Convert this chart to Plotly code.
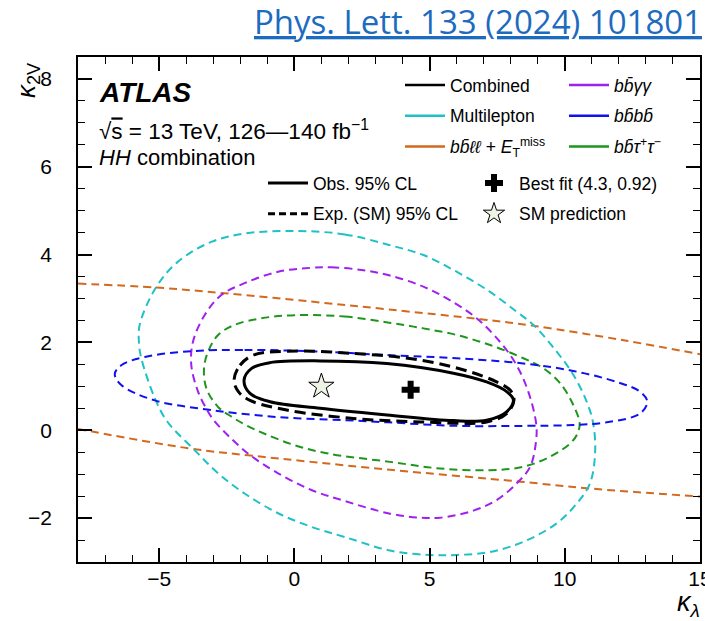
import plotly.graph_objects as go

# ---------------- data ----------------
# Multilepton 95% CL contour (cyan)
ml_x = [0.0, 1.86, 3.5, 4.77, 6.0, 7.24, 8.22, 8.84, 9.70, 10.32, 10.81, 11.05, 11.12, 10.93, 10.44,
        9.70, 8.47, 7.24, 6.0, 5.02, 3.54, 1.86, 0.63, -0.60, -1.84, -2.82, -3.69, -4.70,
        -5.16, -5.66, -5.74, -5.72, -5.10, -4.30, -3.07, -1.84, 0.0]
ml_y = [4.54, 4.46, 4.22, 3.99, 3.61, 3.15, 2.70, 2.40, 1.79, 1.26, 0.65, 0.16, -0.53, -1.21, -1.67,
        -2.12, -2.54, -2.77, -2.84, -2.84, -2.74, -2.43, -2.20, -1.89, -1.44, -0.98, -0.45, 0.20,
        0.73, 1.64, 1.95, 2.40, 3.27, 3.84, 4.29, 4.48, 4.54]

# bbyy 95% CL contour (purple)
yy_x = [0.63, 1.37, 2.48, 3.5, 4.77, 5.76, 6.74, 7.61, 8.22, 8.65, 8.94, 8.94, 8.72, 8.22, 7.48,
        6.62, 5.39, 4.65, 3.54, 1.86, 0.63, -0.60, -1.63, -2.40, -2.97, -3.19, -3.56, -3.81, -3.75,
        -3.32, -2.70, -1.84, -0.60, 0.63]
yy_y = [3.70, 3.71, 3.65, 3.53, 3.27, 2.96, 2.55, 2.01, 1.48, 0.88, 0.16, -0.23, -0.83, -1.21, -1.59,
        -1.83, -1.99, -1.99, -1.90, -1.61, -1.36, -0.98, -0.57, -0.15, 0.22, 0.42, 0.88, 1.48, 2.01,
        2.62, 3.08, 3.35, 3.61, 3.70]

# bbtautau 95% CL contour (green)
tt_x = [0.01, 1.86, 3.5, 4.77, 6.0, 7.24, 8.47, 9.21, 9.83, 10.32, 10.55, 10.45, 10.20, 9.46, 8.47,
        7.24, 5.39, 3.54, 1.25, 0.01, -1.10, -1.80, -2.30, -2.82, -3.25, -3.34, -3.19, -2.82, -2.21,
        -1.22, 0.01]
tt_y = [2.62, 2.59, 2.45, 2.32, 2.17, 1.94, 1.64, 1.41, 1.07, 0.57, 0.15, -0.10, -0.30, -0.60, -0.83,
        -0.91, -0.87, -0.72, -0.53, -0.34, -0.08, 0.12, 0.30, 0.53, 0.95, 1.41, 1.79, 2.17, 2.40,
        2.55, 2.62]

# bbbb 95% CL contour (blue)
b4_x = [-3.81, -1.84, 0.63, 3.5, 6.0, 8.47, 10.32, 11.92, 12.78, 13.05, 12.78, 11.55, 10.32, 8.47,
        6.0, 3.46, 1.86, -0.60, -3.07, -5.16, -6.40, -6.64, -6.40, -5.53, -3.81]
b4_y = [1.80, 1.83, 1.80, 1.71, 1.64, 1.52, 1.35, 1.10, 0.88, 0.65, 0.38, 0.18, 0.12, 0.10,
        0.10, 0.18, 0.23, 0.30, 0.46, 0.68, 1.03, 1.28, 1.48, 1.67, 1.80]

# bbll+MET 95% CL contour (orange, two open branches)
ll_up_x = [-8.0, -5.10, -2.58, 0.63, 3.5, 6.87, 8.84, 12.17, 15.0]
ll_up_y = [3.34, 3.25, 3.12, 2.93, 2.75, 2.53, 2.38, 2.05, 1.73]
ll_lo_x = [-8.0, -3.93, -1.71, 0.63, 3.54, 8.35, 10.81, 15.0]
ll_lo_y = [0.03, -0.41, -0.57, -0.72, -0.90, -1.17, -1.32, -1.51]

# Combined observed 95% CL (black solid)
obs_x = [-1.86, -1.58, -0.90, 0.95, 3.42, 5.88, 7.11, 7.85, 8.10, 7.85, 7.11, 5.88, 3.42, 0.95,
         -0.90, -1.64, -1.86]
obs_y = [1.14, 1.41, 1.54, 1.58, 1.52, 1.30, 1.10, 0.88, 0.69, 0.42, 0.23, 0.22, 0.35, 0.50,
         0.65, 0.84, 1.14]

# Combined expected (SM) 95% CL (black dashed)
exp_x = [-2.23, -2.01, -1.52, -0.28, 2.18, 4.65, 6.50, 7.48, 8.0, 8.12, 7.85, 7.11, 4.65, 2.18,
         -0.28, -1.64, -2.07, -2.23]
exp_y = [1.14, 1.48, 1.71, 1.80, 1.75, 1.60, 1.33, 1.10, 0.90, 0.68, 0.38, 0.19, 0.19, 0.27,
         0.46, 0.68, 0.88, 1.14]

best_fit = (4.3, 0.92)
sm_point = (1.0, 1.0)

x_ticks = [-5, 0, 5, 10, 15]
y_ticks = [-2, 0, 2, 4, 6, 8]

# ---------------- colours ----------------
C_ML = "#1fc1c6"
C_YY = "#a020f0"
C_TT = "#1e961e"
C_B4 = "#1010f0"
C_LL = "#d2691e"

FONT = "'Liberation Sans', Arial, Helvetica, sans-serif"

fig = go.Figure()


def add_line(x, y, color, width, dash, spline=True):
    fig.add_trace(go.Scatter(
        x=x, y=y, mode="lines",
        line=dict(color=color, width=width, dash=dash,
                  shape="spline" if spline else "linear", smoothing=1.0),
        showlegend=False, hoverinfo="skip"))


DASH = "8px,5px"
add_line(ll_up_x, ll_up_y, C_LL, 2, DASH)
add_line(ll_lo_x, ll_lo_y, C_LL, 2, DASH)
add_line(ml_x, ml_y, C_ML, 2, DASH)
add_line(yy_x, yy_y, C_YY, 2, DASH)
add_line(tt_x, tt_y, C_TT, 2, DASH)
add_line(b4_x, b4_y, C_B4, 2, DASH)
add_line(exp_x, exp_y, "black", 3, "11px,6px")
add_line(obs_x, obs_y, "black", 3, "solid")

fig.add_trace(go.Scatter(x=[best_fit[0]], y=[best_fit[1]], mode="markers",
                         marker=dict(symbol="cross", size=15, color="black"),
                         name="Best fit (4.3, 0.92)", legend="legend4", legendgroup="bf"))
fig.add_trace(go.Scatter(x=[sm_point[0]], y=[sm_point[1]], mode="markers",
                         marker=dict(symbol="star", size=19, color="#eef4e4",
                                     line=dict(color="black", width=1)),
                         name="SM prediction", legend="legend4", legendgroup="sm"))


# legend-only entries (solid sample lines)
def legend_entry(name, color, legend, width=2.5, dash="solid"):
    fig.add_trace(go.Scatter(x=[None], y=[None], mode="lines", name=name,
                             line=dict(color=color, width=width, dash=dash),
                             legend=legend, legendgroup=name, hoverinfo="skip"))


legend_entry("Combined", "black", "legend")
legend_entry("Multilepton", C_ML, "legend")
legend_entry("<i>bb̄ℓℓ</i> + <i>E</i><sub>T</sub><sup>miss</sup>", C_LL, "legend")
legend_entry("<i>bb̄γγ</i>", C_YY, "legend2")
legend_entry("<i>bb̄bb̄</i>", C_B4, "legend2")
legend_entry("<i>bb̄τ</i><sup>+</sup><i>τ</i><sup>−</sup>", C_TT, "legend2")
legend_entry("Obs. 95% CL", "black", "legend3", width=3)
legend_entry("Exp. (SM) 95% CL", "black", "legend3", width=3, dash="7px,4px")

# pixel -> paper helpers for the plot frame (78..700, 57..562)
L, R, T, B = 78, 700, 57, 562


def px(xp):
    return (xp - L) / (R - L)


def py(yp):
    return 1 - (yp - T) / (B - T)


leg_common = dict(bgcolor="rgba(0,0,0,0)", borderwidth=0, traceorder="grouped",
                  tracegroupgap=5, font=dict(family=FONT, size=17.5, color="black"),
                  xanchor="left", yanchor="top", itemwidth=40)

axis_common = dict(ticks="inside", ticklen=14, tickwidth=1.5, tickcolor="black",
                   showline=True, linecolor="black", linewidth=1.5, mirror="ticks",
                   showgrid=False, zeroline=False, automargin=False,
                   ticklabeloverflow="allow",
                   tickfont=dict(family=FONT, size=21, color="black"))

fig.update_layout(
    template="none",
    width=705, height=621,
    margin=dict(l=L, r=705 - R, t=T, b=621 - B, autoexpand=False),
    plot_bgcolor="white", paper_bgcolor="white",
    font=dict(family=FONT, color="black"),
    xaxis=dict(range=[-8, 15], tickvals=x_ticks, ticklabelstandoff=-3,
               minor=dict(dtick=1, ticks="inside", ticklen=7, tickwidth=1.2, tickcolor="black"),
               **axis_common),
    yaxis=dict(range=[-3, 8.5], tickvals=y_ticks, ticklabelstandoff=20,
               minor=dict(dtick=0.5, ticks="inside", ticklen=7, tickwidth=1.2, tickcolor="black"),
               **axis_common),
    legend=dict(x=px(400), y=py(67), **leg_common),
    legend2=dict(x=px(564), y=py(67), **leg_common),
    legend3=dict(x=px(263), y=py(165), **leg_common),
    legend4=dict(x=px(469), y=py(165), **leg_common),
)

ann = [
    dict(text="<b><i>ATLAS</i></b>", x=px(97), y=py(93), xanchor="left", yanchor="middle",
         font=dict(family=FONT, size=28)),
    dict(text="√<span style='text-decoration:overline'>s</span> = 13 TeV, 126—140 fb<sup>−1</sup>",
         x=px(97), y=py(130), xanchor="left", yanchor="middle", font=dict(family=FONT, size=22.5)),
    dict(text="<i>HH</i> combination", x=px(97), y=py(158), xanchor="left", yanchor="middle",
         font=dict(family=FONT, size=22)),
    dict(text="<i>κ</i><sub>2V</sub>", x=px(27), y=py(60), xanchor="center", yanchor="top",
         textangle=-90, font=dict(family=FONT, size=26)),
    dict(text="<i>κ</i><sub><i>λ</i></sub>", x=px(702), y=py(604), xanchor="right", yanchor="middle",
         font=dict(family=FONT, size=27)),
    dict(text="<u>Phys. Lett. 133 (2024) 101801</u>", x=px(704), y=py(22), xanchor="right",
         yanchor="middle", font=dict(family="'Open Sans', sans-serif", size=33, color="#1c6bbf")),
]
for a in ann:
    a.update(xref="paper", yref="paper", showarrow=False)
fig.update_layout(annotations=ann)

fig.write_html("out.html", config={"displayModeBar": False},
               post_script="document.body.style.margin='0';document.body.style.padding='0';")
